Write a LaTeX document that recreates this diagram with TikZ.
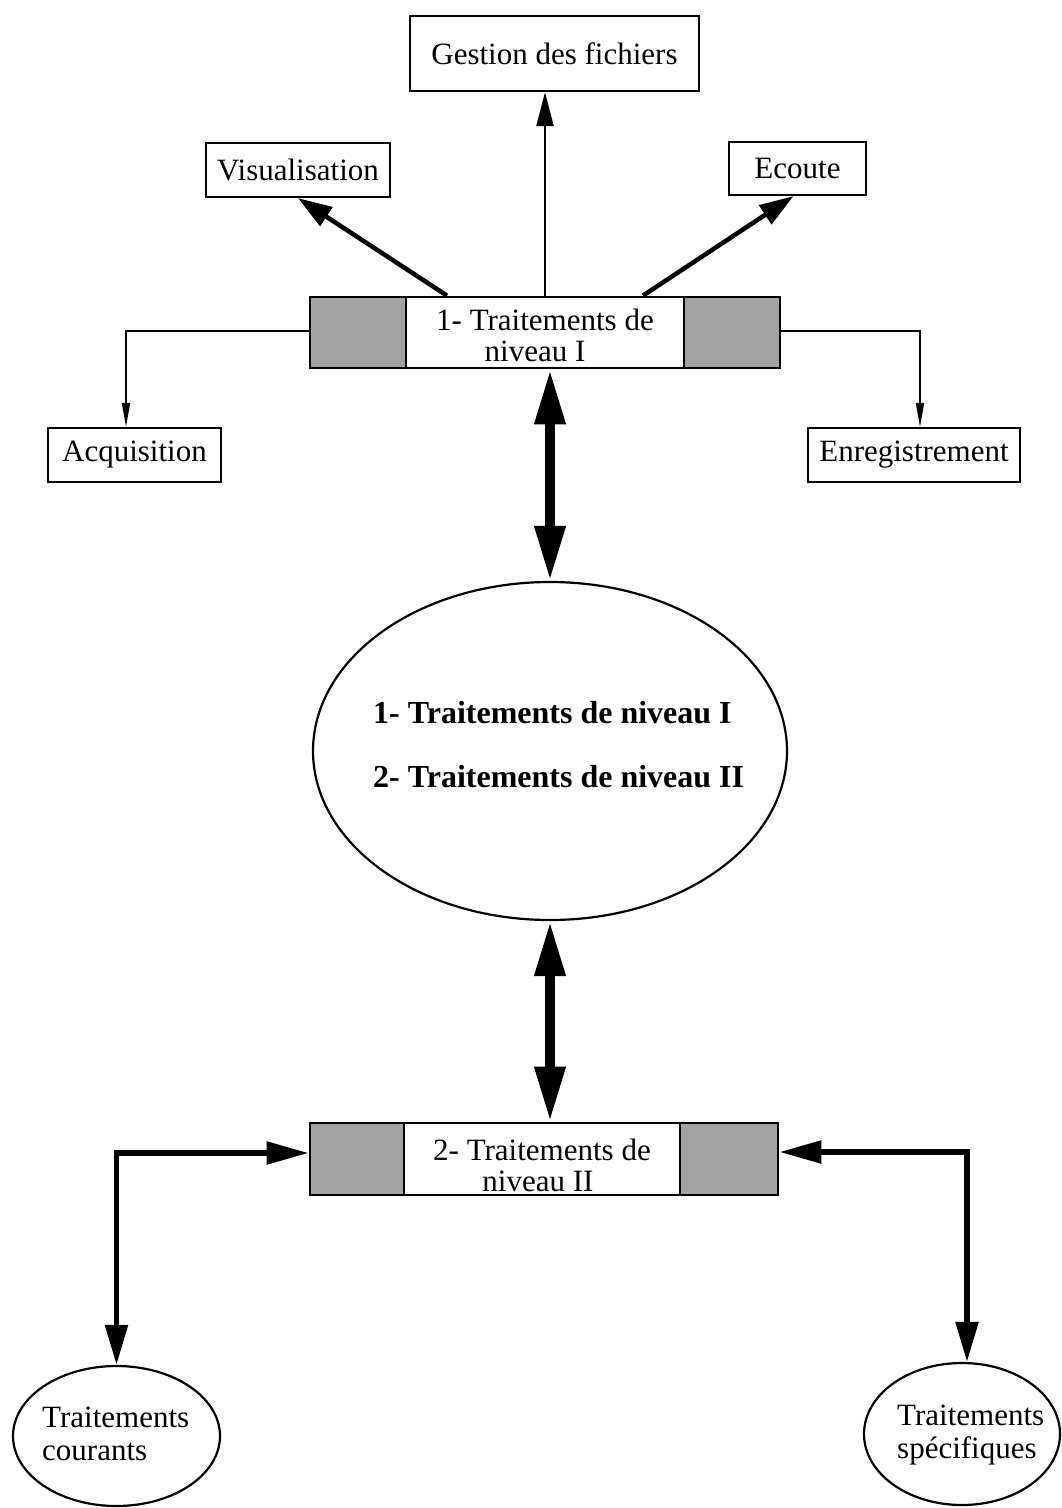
\documentclass[tikz,border=0pt]{standalone}
\usepackage{fontspec}
\setmainfont{Liberation Serif}
\usetikzlibrary{arrows.meta,shapes.geometric}
\begin{document}
\begin{tikzpicture}[x=1pt,y=-1pt,
  box/.style={draw, line width=2.2pt, inner sep=0pt, font=\fontsize{31}{31}\selectfont},
  shade/.style={draw, line width=2.8pt, inner sep=0pt, fill=black!36},
  mid/.style={draw, line width=2.8pt, inner sep=0pt, fill=white},
  lbl/.style={inner sep=0pt, anchor=base, font=\fontsize{31}{31}\selectfont},
  lblw/.style={inner sep=0pt, anchor=base west, font=\fontsize{31}{31}\selectfont},
  blbl/.style={inner sep=0pt, anchor=base west, font=\fontsize{32}{32}\selectfont\bfseries},
  oval/.style={draw, ellipse, line width=2.2pt, inner sep=0pt},
  vertarr/.style={line width=2.5pt, -{Triangle[length=34pt,width=17pt]}},
  diagarr/.style={line width=4.5pt, -{Triangle[length=34pt,width=22pt]}},
  smallarr/.style={line width=1.8pt, -{Triangle[length=24pt,width=8pt]}},
  bigarr/.style={line width=10pt, {Triangle[length=55pt,width=29pt]}-{Triangle[length=55pt,width=29pt]}},
  medarr/.style={line width=5.5pt, {Triangle[length=42pt,width=22pt]}-{Triangle[length=40pt,width=22pt]}}
]
\useasboundingbox (0,0) rectangle (1061,1508);

% top boxes
\node[box, minimum width=289pt, minimum height=75pt] (gest) at (554.5,53.5) {Gestion des fichiers};
\node[box, minimum width=184pt, minimum height=54pt] (vis) at (298,170) {Visualisation};
\node[box, minimum width=137pt, minimum height=53pt] (ecoute) at (797.5,168.5) {Ecoute};
\node[box, minimum width=173pt, minimum height=54pt] (acq) at (134.5,455) {Acquisition};
\node[box, minimum width=212pt, minimum height=54pt] (enr) at (914,455) {Enregistrement};

% bar 1
\node[shade, minimum width=96pt, minimum height=71pt] (b1l) at (358,332.5) {};
\node[shade, minimum width=96pt, minimum height=71pt] (b1r) at (732,332.5) {};
\node[mid, minimum width=278pt, minimum height=71pt] (b1) at (545,332.5) {};
\node[lbl] (b1t1) at (545,330) {1- Traitements de};
\node[lbl] (b1t2) at (535,361) {niveau I};

% big ellipse
\node[oval, minimum width=474pt, minimum height=338pt] (ell) at (550,751) {};
\node[blbl] (e1) at (373,723) {1- Traitements de niveau I};
\node[blbl] (e2) at (373,787) {2- Traitements de niveau II};

% bar 2
\node[shade, minimum width=94pt, minimum height=72pt] (b2l) at (357,1159) {};
\node[shade, minimum width=98pt, minimum height=72pt] (b2r) at (729,1159) {};
\node[mid, minimum width=276pt, minimum height=72pt] (b2) at (542,1159) {};
\node[lbl] (b2t1) at (542,1160) {2- Traitements de};
\node[lbl] (b2t2) at (538,1191) {niveau II};

% small ellipses
\node[oval, minimum width=207pt, minimum height=140pt] (ellL) at (116.5,1436) {};
\node[lblw] (l1) at (42,1427) {Traitements};
\node[lblw] (l2) at (42,1460) {courants};
\node[oval, minimum width=196pt, minimum height=142pt] (ellR) at (962,1434) {};
\node[lblw] (r1) at (897,1425) {Traitements};
\node[lblw] (r2) at (897,1458) {spécifiques};

% connectors top
\draw[vertarr] (b1.north) -- (b1.north |- gest.south);
\draw[diagarr] ([xshift=-98pt]b1.north) -- (vis.south);
\draw[diagarr] ([xshift=98pt]b1.north) -- ([xshift=-4pt]ecoute.south);
\draw[smallarr] ([yshift=1.5pt]b1l.west) -| ([xshift=-8.5pt]acq.north);
\draw[smallarr] ([yshift=1.5pt]b1r.east) -| ([xshift=6pt]enr.north);

% big arrows
\draw[bigarr] (ell.north |- b1.south) -- (ell.north);
\draw[bigarr] (ell.south) -- (ell.south |- b2.north);

% bottom connectors
\draw[medarr] ([yshift=6pt]b2l.west) -| (ellL.north);
\draw[medarr] ([yshift=7pt]b2r.east) -| ([xshift=5pt]ellR.north);
\end{tikzpicture}
\end{document}
